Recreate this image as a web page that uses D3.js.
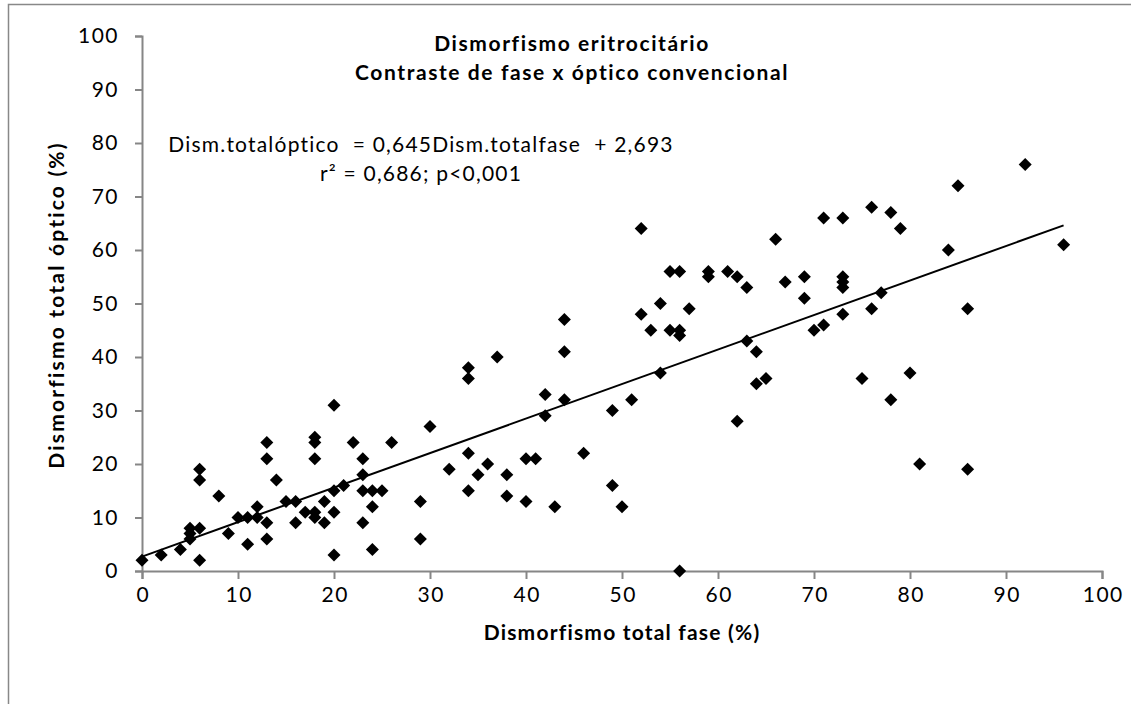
<!DOCTYPE html>
<html>
<head>
<meta charset="utf-8">
<script src="https://cdn.jsdelivr.net/npm/d3@7"></script>
<style>
  html, body { margin: 0; padding: 0; background: #fff; }
  svg { display: block; }
  text { font-family: Lato, "Open Sans", sans-serif; fill: #000; }
</style>
</head>
<body>
<svg id="chart" width="1131" height="704"></svg>
<script>
// ---- data ----
const faseX = [0,2,4,5,5,5,6,6,6,6,8,9,10,11,11,12,12,13,13,13,13,14,15,16,16,17,18,18,18,18,18,19,19,20,20,20,20,21,22,23,23,23,23,24,24,24,25,26,29,29,30,32,34,34,34,34,35,36,37,38,38,40,40,41,42,42,43,44,44,44,46,49,49,50,51,52,52,53,54,54,55,55,56,56,56,56,57,59,59,61,62,62,63,63,64,64,65,66,67,69,69,70,71,71,73,73,73,73,73,75,76,76,77,78,78,79,80,81,84,85,86,86,92,96];
const opticoY = [2,3,4,8,7,6,19,17,8,2,14,7,10,10,5,12,10,24,21,9,6,17,13,13,9,11,25,24,21,11,10,13,9,31,15,11,3,16,24,21,18,15,9,15,12,4,15,24,13,6,27,19,38,36,22,15,18,20,40,18,14,21,13,21,33,29,12,47,41,32,22,30,16,12,32,64,48,45,50,37,56,45,56,45,44,0,49,56,55,56,55,28,53,43,41,35,36,62,54,55,51,45,66,46,66,55,54,53,48,36,68,49,52,67,32,64,37,20,60,72,49,19,76,61];
const xTicks = [0,10,20,30,40,50,60,70,80,90,100];
const yTicks = [0,10,20,30,40,50,60,70,80,90,100];
const slope = 0.645;
const intercept = 2.693;
const fitRange = [0, 96];
const titleLines = ["Dismorfismo eritrocitário", "Contraste de fase x óptico convencional"];
const eqLines = ["Dism.totalóptico  = 0,645Dism.totalfase  + 2,693", "r² = 0,686; p<0,001"];
const xTitle = "Dismorfismo total fase (%)";
const yTitle = "Dismorfismo total óptico (%)";

// ---- drawing ----
const svg = d3.select("#chart");
svg.append("rect").attr("width", 1131).attr("height", 704).attr("fill", "#fff");
// outer chart border (extends past the window on right/bottom)
svg.append("rect").attr("x", 8.5).attr("y", 4.5).attr("width", 1140).attr("height", 720)
  .attr("fill", "none").attr("stroke", "#888").attr("stroke-width", 1.5);

const x = d3.scaleLinear().domain([0, 100]).range([142, 1102]);
const y = d3.scaleLinear().domain([0, 100]).range([571, 36]);
const axisColor = "#868686";

const gx = svg.append("g").attr("transform", `translate(0,${y(0)})`)
  .call(d3.axisBottom(x).tickValues(xTicks).tickSize(8).tickPadding(8).tickFormat(d3.format("d")));
const gy = svg.append("g").attr("transform", `translate(${x(0)},0)`)
  .call(d3.axisLeft(y).tickValues(yTicks).tickSize(7).tickPadding(16).tickFormat(d3.format("d")));
[gx, gy].forEach(g => {
  g.select(".domain").attr("stroke", axisColor).attr("stroke-width", 2);
  g.selectAll(".tick line").attr("stroke", axisColor).attr("stroke-width", 2);
  g.selectAll(".tick text").attr("font-size", 21).attr("fill", "#000")
    .attr("letter-spacing", 1.5)
    .style("font-family", "Lato, sans-serif");
});
gx.selectAll(".tick text").attr("dx", 0.75);

// trend line
const line = d3.line().x(d => x(d)).y(d => y(slope * d + intercept));
svg.append("path").datum(fitRange).attr("d", line)
  .attr("fill", "none").attr("stroke", "#000").attr("stroke-width", 2);

// points
const pts = faseX.map((v, i) => ({ x: v, y: opticoY[i] }));
const diamond = "M0,-6.5L6.5,0L0,6.5L-6.5,0Z";
svg.append("g").selectAll("path").data(pts).join("path")
  .attr("d", diamond)
  .attr("transform", d => `translate(${x(d.x)},${y(d.y)})`)
  .attr("fill", "#000");

// title
svg.append("g").selectAll("text").data(titleLines).join("text")
  .attr("x", 572).attr("y", (d, i) => 51 + i * 29)
  .attr("text-anchor", "middle").attr("font-size", 21).attr("font-weight", "bold")
  .attr("letter-spacing", 1.6)
  .text(d => d);

// regression equation
svg.append("g").selectAll("text").data(eqLines).join("text")
  .attr("x", 421).attr("y", (d, i) => 152 + i * 29)
  .attr("text-anchor", "middle").attr("font-size", 21)
  .attr("letter-spacing", 1.2)
  .style("white-space", "pre").attr("xml:space", "preserve")
  .text(d => d);

// axis titles
svg.append("text").attr("x", 622).attr("y", 640)
  .attr("text-anchor", "middle").attr("font-size", 21).attr("font-weight", "bold")
  .attr("letter-spacing", 1.2)
  .text(xTitle);
svg.append("text").attr("transform", "translate(64,305) rotate(-90)")
  .attr("text-anchor", "middle").attr("font-size", 21).attr("font-weight", "bold")
  .attr("letter-spacing", 2.2)
  .text(yTitle);
</script>
</body>
</html>
